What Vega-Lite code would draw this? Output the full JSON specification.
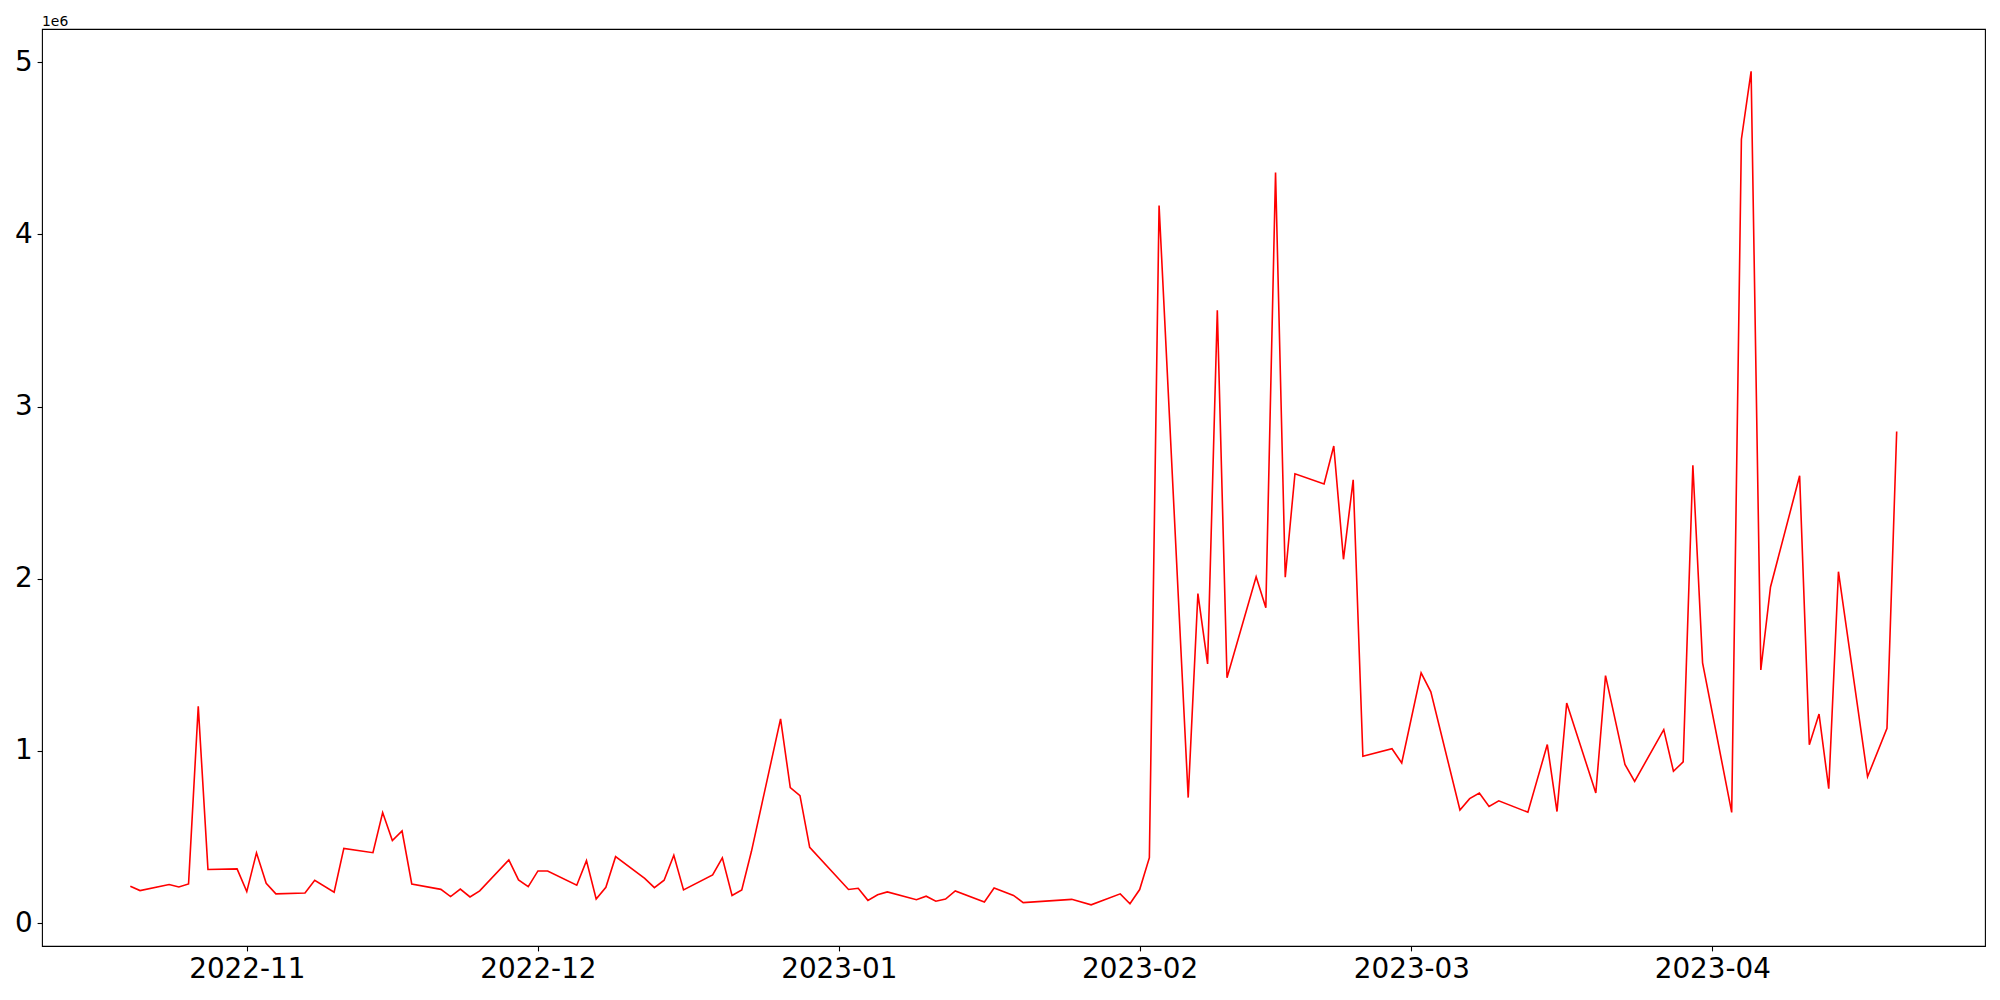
{
  "$schema": "https://vega.github.io/schema/vega-lite/v6.json",
  "autosize": {"type": "none"},
  "width": 1943,
  "height": 917,
  "padding": {"left": 42, "top": 29, "right": 15, "bottom": 54},
  "background": "white",
  "title": {"text": "1e6", "anchor": "start", "frame": "group", "fontSize": 13.9, "fontWeight": "normal", "font": "DejaVu Sans", "color": "black", "offset": -11, "baseline": "alphabetic"},
  "config": {
    "view": {"stroke": "black", "strokeWidth": 1.1},
    "axis": {"grid": false, "domain": false, "tickColor": "black", "tickSize": 4.9, "tickWidth": 1.1, "labelFont": "DejaVu Sans", "labelFontSize": 27.8, "labelColor": "black", "labelPadding": 4.9, "title": null}
  },
  "data": {"values": [
    {"date": "2022-10-20", "v": 214000},
    {"date": "2022-10-21", "v": 189000},
    {"date": "2022-10-24", "v": 224000},
    {"date": "2022-10-25", "v": 210000},
    {"date": "2022-10-26", "v": 227000},
    {"date": "2022-10-27", "v": 1259000},
    {"date": "2022-10-28", "v": 311000},
    {"date": "2022-10-31", "v": 315000},
    {"date": "2022-11-01", "v": 183000},
    {"date": "2022-11-02", "v": 408000},
    {"date": "2022-11-03", "v": 231000},
    {"date": "2022-11-04", "v": 170000},
    {"date": "2022-11-07", "v": 175000},
    {"date": "2022-11-08", "v": 249000},
    {"date": "2022-11-10", "v": 179000},
    {"date": "2022-11-11", "v": 434000},
    {"date": "2022-11-14", "v": 409000},
    {"date": "2022-11-15", "v": 642000},
    {"date": "2022-11-16", "v": 479000},
    {"date": "2022-11-17", "v": 535000},
    {"date": "2022-11-18", "v": 227000},
    {"date": "2022-11-21", "v": 196000},
    {"date": "2022-11-22", "v": 154000},
    {"date": "2022-11-23", "v": 198000},
    {"date": "2022-11-24", "v": 152000},
    {"date": "2022-11-25", "v": 187000},
    {"date": "2022-11-28", "v": 367000},
    {"date": "2022-11-29", "v": 251000},
    {"date": "2022-11-30", "v": 212000},
    {"date": "2022-12-01", "v": 303000},
    {"date": "2022-12-02", "v": 303000},
    {"date": "2022-12-05", "v": 220000},
    {"date": "2022-12-06", "v": 363000},
    {"date": "2022-12-07", "v": 140000},
    {"date": "2022-12-08", "v": 208000},
    {"date": "2022-12-09", "v": 386000},
    {"date": "2022-12-12", "v": 260000},
    {"date": "2022-12-13", "v": 206000},
    {"date": "2022-12-14", "v": 249000},
    {"date": "2022-12-15", "v": 394000},
    {"date": "2022-12-16", "v": 193000},
    {"date": "2022-12-19", "v": 280000},
    {"date": "2022-12-20", "v": 379000},
    {"date": "2022-12-21", "v": 160000},
    {"date": "2022-12-22", "v": 193000},
    {"date": "2022-12-23", "v": 417000},
    {"date": "2022-12-26", "v": 1186000},
    {"date": "2022-12-27", "v": 787000},
    {"date": "2022-12-28", "v": 740000},
    {"date": "2022-12-29", "v": 440000},
    {"date": "2023-01-02", "v": 195000},
    {"date": "2023-01-03", "v": 202000},
    {"date": "2023-01-04", "v": 132000},
    {"date": "2023-01-05", "v": 165000},
    {"date": "2023-01-06", "v": 181000},
    {"date": "2023-01-09", "v": 136000},
    {"date": "2023-01-10", "v": 156000},
    {"date": "2023-01-11", "v": 127000},
    {"date": "2023-01-12", "v": 140000},
    {"date": "2023-01-13", "v": 187000},
    {"date": "2023-01-16", "v": 123000},
    {"date": "2023-01-17", "v": 204000},
    {"date": "2023-01-19", "v": 161000},
    {"date": "2023-01-20", "v": 119000},
    {"date": "2023-01-25", "v": 138000},
    {"date": "2023-01-27", "v": 106000},
    {"date": "2023-01-30", "v": 170000},
    {"date": "2023-01-31", "v": 112000},
    {"date": "2023-02-01", "v": 195000},
    {"date": "2023-02-02", "v": 380000},
    {"date": "2023-02-03", "v": 4168000},
    {"date": "2023-02-06", "v": 729000},
    {"date": "2023-02-07", "v": 1914000},
    {"date": "2023-02-08", "v": 1505000},
    {"date": "2023-02-09", "v": 3560000},
    {"date": "2023-02-10", "v": 1425000},
    {"date": "2023-02-13", "v": 2012000},
    {"date": "2023-02-14", "v": 1831000},
    {"date": "2023-02-15", "v": 4360000},
    {"date": "2023-02-16", "v": 2009000},
    {"date": "2023-02-17", "v": 2610000},
    {"date": "2023-02-20", "v": 2551000},
    {"date": "2023-02-21", "v": 2771000},
    {"date": "2023-02-22", "v": 2113000},
    {"date": "2023-02-23", "v": 2575000},
    {"date": "2023-02-24", "v": 969000},
    {"date": "2023-02-27", "v": 1013000},
    {"date": "2023-02-28", "v": 930000},
    {"date": "2023-03-02", "v": 1453000},
    {"date": "2023-03-03", "v": 1343000},
    {"date": "2023-03-06", "v": 657000},
    {"date": "2023-03-07", "v": 723000},
    {"date": "2023-03-08", "v": 756000},
    {"date": "2023-03-09", "v": 677000},
    {"date": "2023-03-10", "v": 710000},
    {"date": "2023-03-13", "v": 644000},
    {"date": "2023-03-15", "v": 1037000},
    {"date": "2023-03-16", "v": 648000},
    {"date": "2023-03-17", "v": 1278000},
    {"date": "2023-03-20", "v": 756000},
    {"date": "2023-03-21", "v": 1437000},
    {"date": "2023-03-23", "v": 922000},
    {"date": "2023-03-24", "v": 823000},
    {"date": "2023-03-27", "v": 1124000},
    {"date": "2023-03-28", "v": 882000},
    {"date": "2023-03-29", "v": 936000},
    {"date": "2023-03-30", "v": 2659000},
    {"date": "2023-03-31", "v": 1511000},
    {"date": "2023-04-03", "v": 643000},
    {"date": "2023-04-04", "v": 4553000},
    {"date": "2023-04-05", "v": 4947000},
    {"date": "2023-04-06", "v": 1470000},
    {"date": "2023-04-07", "v": 1952000},
    {"date": "2023-04-10", "v": 2598000},
    {"date": "2023-04-11", "v": 1036000},
    {"date": "2023-04-12", "v": 1214000},
    {"date": "2023-04-13", "v": 781000},
    {"date": "2023-04-14", "v": 2041000},
    {"date": "2023-04-17", "v": 850000},
    {"date": "2023-04-19", "v": 1131000},
    {"date": "2023-04-20", "v": 2855000}
  ]},
  "mark": {"type": "line", "color": "#ff0000", "strokeWidth": 1.6, "clip": true},
  "encoding": {
    "x": {
      "field": "date", "type": "temporal",
      "scale": {"type": "utc", "domain": [{"year": 2022, "month": 10, "date": 10, "hours": 21, "minutes": 36, "utc": true}, {"year": 2023, "month": 4, "date": 29, "hours": 2, "minutes": 24, "utc": true}], "nice": false},
      "axis": {
        "values": [
          {"year": 2022, "month": 11, "date": 1, "utc": true},
          {"year": 2022, "month": 12, "date": 1, "utc": true},
          {"year": 2023, "month": 1, "date": 1, "utc": true},
          {"year": 2023, "month": 2, "date": 1, "utc": true},
          {"year": 2023, "month": 3, "date": 1, "utc": true},
          {"year": 2023, "month": 4, "date": 1, "utc": true}
        ],
        "format": "%Y-%m", "labelBaseline": "top", "labelAlign": "center", "labelFlush": false, "labelOverlap": false
      }
    },
    "y": {
      "field": "v", "type": "quantitative",
      "scale": {"domain": [-133000, 5193000], "nice": false, "zero": false},
      "axis": {"values": [0, 1000000, 2000000, 3000000, 4000000, 5000000], "labelExpr": "format(datum.value / 1000000, 'd')", "labelBaseline": "middle"}
    }
  }
}
